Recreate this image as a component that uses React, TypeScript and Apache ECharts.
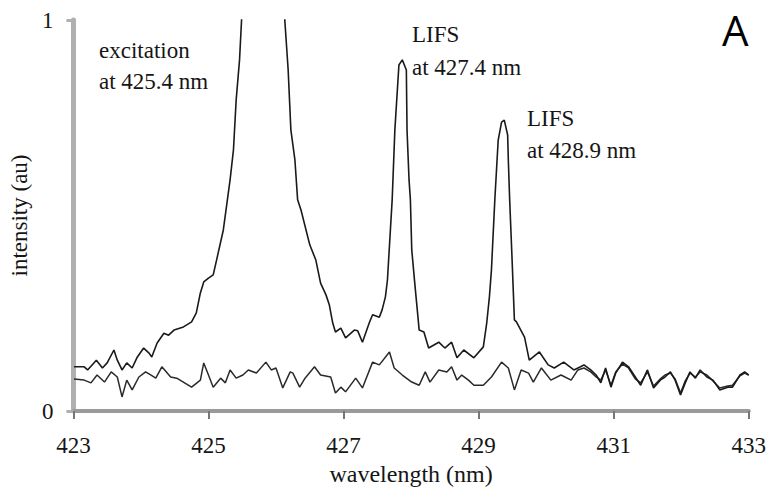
import React, { useEffect, useRef } from "react";
import * as echarts from "echarts";

// Spectrum with LIFS peaks (trace A)
const aWavelength = [
  423.01, 423.16, 423.21, 423.34, 423.43, 423.5, 423.6, 423.65, 423.72, 423.79, 423.87, 423.94,
  424.04, 424.12, 424.16, 424.24, 424.34, 424.41, 424.49, 424.63, 424.75, 424.82, 424.88, 424.93,
  425.0, 425.07, 425.12, 425.22, 425.32, 425.37, 425.41, 425.46, 425.49, 425.6, 425.8, 426.0,
  426.13, 426.18, 426.22, 426.28, 426.32, 426.37, 426.5, 426.59, 426.66, 426.74, 426.79, 426.84,
  426.88, 426.96, 427.03, 427.16, 427.21, 427.28, 427.38, 427.43, 427.53, 427.57, 427.62, 427.65,
  427.72, 427.76, 427.82, 427.87, 427.93, 427.94, 427.97, 427.99, 428.01, 428.06, 428.12, 428.19,
  428.26, 428.41, 428.5, 428.6, 428.68, 428.78, 428.93, 429.07, 429.12, 429.16, 429.19, 429.24,
  429.29, 429.34, 429.38, 429.43, 429.44, 429.46, 429.49, 429.53, 429.56, 429.68, 429.75, 429.9,
  430.03, 430.12, 430.26, 430.41, 430.51, 430.56, 430.66, 430.74, 430.81, 430.88, 430.96, 431.03,
  431.13, 431.22, 431.32, 431.4, 431.5, 431.59, 431.69, 431.76, 431.84, 431.91, 431.99, 432.06,
  432.13, 432.21, 432.28, 432.38, 432.47, 432.57, 432.69, 432.76, 432.87, 432.94, 433.0,
];
const aIntensity = [
  0.113, 0.113, 0.105, 0.13, 0.11, 0.123, 0.156, 0.13, 0.105, 0.123, 0.11, 0.136,
  0.161, 0.148, 0.138, 0.174, 0.199, 0.194, 0.207, 0.215, 0.228, 0.251, 0.302, 0.33,
  0.34, 0.348, 0.386, 0.463, 0.591, 0.668, 0.795, 0.898, 1.0, 1.5, 2.0, 1.5,
  1.0, 0.872, 0.719, 0.642, 0.54, 0.514, 0.425, 0.386, 0.327, 0.297, 0.271, 0.225,
  0.202, 0.212, 0.187, 0.207, 0.205, 0.176, 0.225, 0.246, 0.24, 0.258, 0.292, 0.335,
  0.54, 0.719, 0.885, 0.898, 0.872, 0.719, 0.591, 0.54, 0.412, 0.317, 0.207, 0.202,
  0.161, 0.176, 0.161, 0.176, 0.136, 0.156, 0.136, 0.164, 0.225, 0.292, 0.361, 0.54,
  0.693, 0.739, 0.744, 0.706, 0.642, 0.54, 0.412, 0.233, 0.228, 0.189, 0.13, 0.151,
  0.118, 0.11, 0.125, 0.105, 0.113, 0.118, 0.105, 0.092, 0.072, 0.11, 0.061, 0.097,
  0.125, 0.113, 0.087, 0.066, 0.105, 0.059, 0.079, 0.087, 0.1, 0.079, 0.041, 0.072,
  0.1, 0.084, 0.105, 0.087, 0.079, 0.054, 0.061, 0.061, 0.092, 0.1, 0.092,
];

// Background trace (trace B)
const bWavelength = [
  423.01, 423.16, 423.26, 423.35, 423.46, 423.56, 423.65, 423.72, 423.79, 423.87, 423.97, 424.07,
  424.15, 424.22, 424.31, 424.44, 424.53, 424.75, 424.88, 424.93, 425.0, 425.07, 425.18, 425.25,
  425.32, 425.41, 425.51, 425.59, 425.71, 425.85, 425.93, 426.0, 426.1, 426.21, 426.25, 426.35,
  426.43, 426.57, 426.66, 426.81, 426.88, 426.96, 427.03, 427.18, 427.28, 427.43, 427.53, 427.68,
  427.75, 427.87, 428.01, 428.12, 428.21, 428.28, 428.41, 428.53, 428.6, 428.68, 428.75, 428.85,
  428.93, 429.07, 429.19, 429.34, 429.44, 429.53, 429.63, 429.74, 429.81, 429.93, 430.07, 430.22,
  430.37, 430.47, 430.56, 430.66, 430.74, 430.81, 430.88, 430.96, 431.03, 431.13, 431.22, 431.32,
  431.4, 431.5, 431.59, 431.69, 431.76, 431.84, 431.91, 431.99, 432.06, 432.13, 432.21, 432.28,
  432.38, 432.47, 432.57, 432.69, 432.76, 432.87, 432.94, 433.0,
];
const bIntensity = [
  0.082, 0.079, 0.072, 0.092, 0.074, 0.1, 0.087, 0.036, 0.079, 0.054, 0.087, 0.1,
  0.092, 0.084, 0.113, 0.087, 0.084, 0.061, 0.079, 0.123, 0.092, 0.061, 0.084, 0.072,
  0.105, 0.084, 0.092, 0.105, 0.097, 0.125, 0.105, 0.11, 0.059, 0.1, 0.097, 0.061,
  0.084, 0.113, 0.092, 0.087, 0.046, 0.061, 0.049, 0.084, 0.059, 0.125, 0.118, 0.151,
  0.11, 0.092, 0.074, 0.066, 0.1, 0.074, 0.105, 0.1, 0.113, 0.079, 0.092, 0.079,
  0.066, 0.066, 0.087, 0.125, 0.11, 0.054, 0.105, 0.097, 0.074, 0.11, 0.079, 0.092,
  0.079, 0.105, 0.11, 0.1, 0.087, 0.079, 0.105, 0.066, 0.1, 0.12, 0.11, 0.082,
  0.072, 0.1, 0.064, 0.082, 0.092, 0.097, 0.082, 0.046, 0.077, 0.097, 0.087, 0.1,
  0.092, 0.077, 0.059, 0.064, 0.066, 0.09, 0.097, 0.092,
];

const xTicks = { min: 423, max: 433, interval: 2 };
const yTicks = { min: 0, max: 1, interval: 1 };

const xTitle = "wavelength (nm)";
const yTitle = "intensity (au)";
const notes = [
  { lines: ["excitation", "at 425.4 nm"] },
  { lines: ["LIFS", "at 427.4 nm"] },
  { lines: ["LIFS", "at 428.9 nm"] },
];
const panelLetter = "A";

const SERIF = "'Liberation Serif', 'DejaVu Serif', serif";
const INK = "#151515";

export default function App() {
  const ref = useRef<HTMLDivElement>(null);
  useEffect(() => {
    if (!ref.current) return;
    const chart = echarts.init(ref.current, null, { renderer: "svg" });
    const pairs = (xs: number[], ys: number[]) => xs.map((x, i) => [x, ys[i]]);
    const noteStyle = { fontFamily: SERIF, fontSize: 23, fill: INK };
    const notePos = [
      { x: 99, y: 50, dy: 31 },
      { x: 412, y: 34, dy: 33 },
      { x: 527, y: 118, dy: 32 },
    ];
    const graphics: any[] = [];
    notes.forEach((n, i) => {
      n.lines.forEach((t, j) => {
        graphics.push({
          type: "text",
          x: notePos[i].x,
          y: notePos[i].y + j * notePos[i].dy,
          style: { ...noteStyle, text: t, verticalAlign: "middle", align: "left" },
        });
      });
    });
    graphics.push({
      type: "text",
      x: 722,
      y: 29,
      style: {
        text: panelLetter,
        fontFamily: "'Open Sans', 'DejaVu Sans', sans-serif",
        fontSize: 42,
        fill: "#000",
        verticalAlign: "middle",
        align: "left",
      },
    });
    chart.setOption({
      animation: false,
      backgroundColor: "#fff",
      grid: { left: 69, right: 19, top: 20, bottom: 80, containLabel: false },
      xAxis: {
        type: "value",
        min: xTicks.min,
        max: xTicks.max,
        interval: xTicks.interval,
        name: xTitle,
        nameLocation: "middle",
        nameGap: 51,
        nameTextStyle: { fontFamily: SERIF, fontSize: 24, color: INK },
        axisLine: { show: true, lineStyle: { color: "#9a9a9a", width: 4 } },
        axisTick: { show: true, length: 8, lineStyle: { color: "#777", width: 2 } },
        axisLabel: { margin: 23, fontFamily: SERIF, fontSize: 23, color: INK },
        splitLine: { show: false },
      },
      yAxis: {
        type: "value",
        min: yTicks.min,
        max: yTicks.max,
        interval: yTicks.interval,
        name: yTitle,
        nameLocation: "middle",
        nameGap: 30,
        nameRotate: 90,
        nameTextStyle: { fontFamily: SERIF, fontSize: 23, color: INK },
        axisLine: { show: true, lineStyle: { color: "#b0b0b0", width: 5 } },
        axisTick: { show: true, length: 7, lineStyle: { color: "#b0b0b0", width: 3 } },
        axisLabel: { margin: 20, fontFamily: SERIF, fontSize: 23, color: INK },
        splitLine: { show: false },
      },
      series: [
        {
          type: "line",
          data: pairs(bWavelength, bIntensity),
          showSymbol: false,
          clip: true,
          lineStyle: { color: "#2a2a2a", width: 1.5 },
        },
        {
          type: "line",
          data: pairs(aWavelength, aIntensity),
          showSymbol: false,
          clip: true,
          lineStyle: { color: "#1a1a1a", width: 1.6 },
        },
      ],
      graphic: graphics,
    });
    return () => chart.dispose();
  }, []);
  return (
    <div
      ref={ref}
      style={{ position: "fixed", left: 0, top: 0, width: 769, height: 491 }}
    />
  );
}
